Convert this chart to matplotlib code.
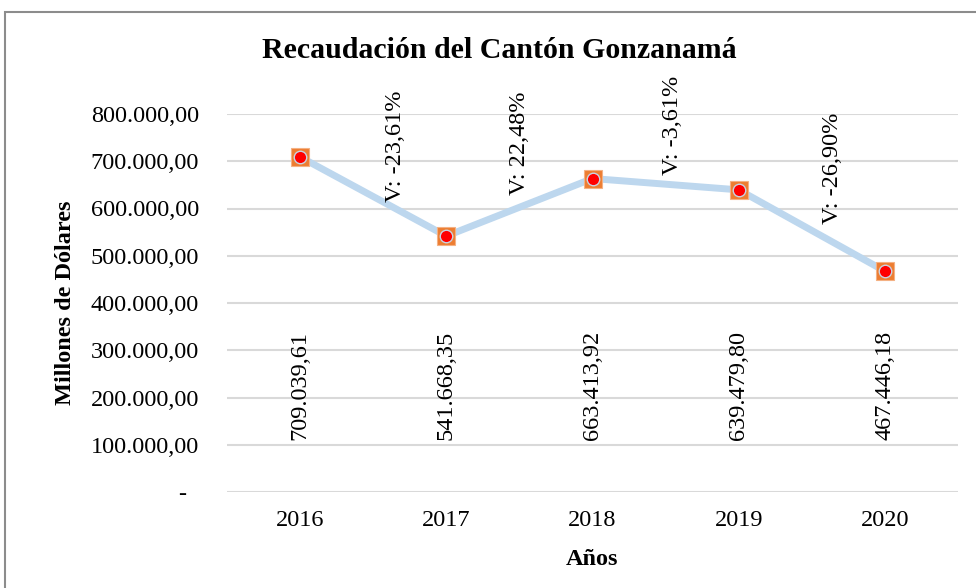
"""Recaudación del Cantón Gonzanamá — line chart with value and variation labels."""
import matplotlib
matplotlib.use("Agg")
import matplotlib.pyplot as plt
from matplotlib.patches import Rectangle

years = ["2016", "2017", "2018", "2019", "2020"]
recaudacion = [709039.61, 541668.35, 663413.92, 639479.80, 467446.18]
variaciones = ["V: -23,61%", "V: 22,48%", "V: -3,61%", "V: -26,90%"]
yticks = [0, 100000, 200000, 300000, 400000, 500000, 600000, 700000, 800000]

# where the variation labels sit (x offset between years, y in data units)
var_x = [0.65, 1.5, 2.55, 3.64]
var_y = [732000, 739000, 775000, 686000]
val_y = 225000
FS = 17.5


def es_num(v, dec=2):
    s = f"{v:,.{dec}f}"
    return s.replace(",", "X").replace(".", ",").replace("X", ".")


plt.rcParams["font.family"] = ["Liberation Serif", "DejaVu Serif"]

fig = plt.figure(figsize=(9.76, 5.88), dpi=100, facecolor="white")
ax = fig.add_axes([227 / 976, 96 / 588, 731 / 976, 378 / 588])

# chart frame (runs off the right and bottom of the image)
fig.patches.append(Rectangle((5 / 976, -0.1), 1.2, 1 - 12 / 588 + 0.1, transform=fig.transFigure,
                             fill=False, edgecolor="#8c8c8c", linewidth=1.5, zorder=0))

x = list(range(len(years)))
ax.plot(x, recaudacion, color="#bdd7ee", linewidth=5, zorder=2)
ax.plot(x, recaudacion, linestyle="none", marker="s", markersize=12.5,
        markerfacecolor="#ed7d31", markeredgecolor="#f4b183", markeredgewidth=0.8, zorder=3)
ax.plot(x, recaudacion, linestyle="none", marker="o", markersize=9,
        markerfacecolor="#ff0000", markeredgecolor="#c9d3e3", markeredgewidth=1.0, zorder=4)

for xi, v in zip(x, recaudacion):
    ax.text(xi, val_y, es_num(v), rotation=90, ha="center", va="center", fontsize=FS, color="black")
for xv, yv, t in zip(var_x, var_y, variaciones):
    ax.text(xv, yv, t, rotation=90, ha="center", va="center", fontsize=FS, color="black")

ax.set_xlim(-0.5, 4.5)
ax.set_ylim(0, 800000)
ax.set_xticks(x)
ax.set_xticklabels(years, fontsize=FS)
ax.set_yticks(yticks)
ax.set_yticklabels(["-  "] + [es_num(t) for t in yticks[1:]], fontsize=FS)
ax.tick_params(length=0)
ax.tick_params(axis="y", pad=20)
ax.tick_params(axis="x", pad=13)
ax.grid(axis="y", color="#d9d9d9", linewidth=1.5)
ax.set_axisbelow(True)
for s in ax.spines.values():
    s.set_visible(False)

ax.set_xlabel("Años", fontsize=FS, fontweight="bold")
ax.xaxis.set_label_coords(0.5, -0.151)
ax.set_ylabel("Millones de Dólares", fontsize=FS, fontweight="bold")
ax.yaxis.set_label_coords(-0.207, 0.5)
fig.text(499 / 976, 1 - 50 / 588, "Recaudación del Cantón Gonzanamá", ha="center", va="center",
         fontsize=21.5, fontweight="bold")

fig.savefig("out.png", dpi=100, facecolor="white")
